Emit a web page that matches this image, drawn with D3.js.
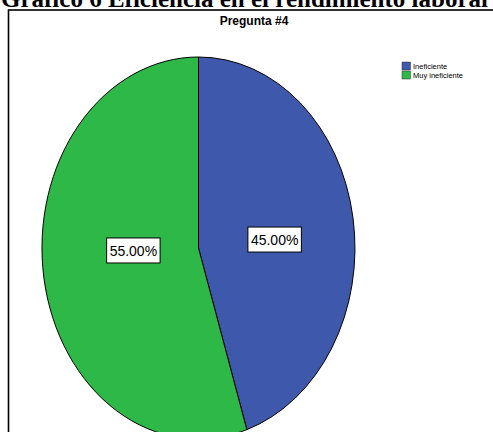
<!DOCTYPE html>
<html>
<head>
<meta charset="utf-8">
<script src="https://cdn.jsdelivr.net/npm/d3@7"></script>
<style>
  body { margin: 0; background: #fff; }
  svg { display: block; }
</style>
</head>
<body>
<script>
// Data
const pageTitle = 'Gráfico 6 Eficiencia en el rendimiento laboral'
const chartTitle = 'Pregunta #4'
const categories = ['Ineficiente', 'Muy ineficiente']
const percents = [45.0, 55.0]
const colors = ['#3e58ac', '#2eb848']

const W = 493, H = 432
const cx = 198.5, cy = 248
const rx = 156.5, ry = 191

const svg = d3.select('body').append('svg')
  .attr('width', W)
  .attr('height', H)

// Cut-off heading above the frame
svg.append('text')
  .attr('x', 1)
  .attr('y', 7)
  .style('font-family', '"Liberation Serif", "Times New Roman", serif')
  .style('font-weight', 'bold')
  .style('font-size', '25px')
  .text(pageTitle)

// Chart frame
svg.append('rect')
  .attr('x', 8.5)
  .attr('y', 10)
  .attr('width', 520)
  .attr('height', 460)
  .attr('fill', 'none')
  .attr('stroke', '#000')
  .attr('stroke-width', 1.6)

svg.append('text')
  .attr('x', 254)
  .attr('y', 25)
  .attr('text-anchor', 'middle')
  .style('font-family', '"Liberation Sans", Arial, sans-serif')
  .style('font-weight', 'bold')
  .style('font-size', '12px')
  .text(chartTitle)

// Pie drawn on a unit circle, then stretched into the ellipse
const pie = d3.pie().sort(null).value(d => d)
const arcs = pie(percents)
const arc = d3.arc().innerRadius(0).outerRadius(1)

const g = svg.append('g')
  .attr('transform', `translate(${cx}, ${cy}) scale(${rx}, ${ry})`)

g.selectAll('path')
  .data(arcs)
  .enter()
  .append('path')
  .attr('d', arc)
  .attr('fill', (d, i) => colors[i])
  .attr('stroke', '#000')
  .attr('stroke-width', 1)
  .attr('vector-effect', 'non-scaling-stroke')

// Percent labels in boxes (placed near the middle band, like SPSS does)
const labelArc = d3.arc().innerRadius(0.457).outerRadius(0.457)
const labels = svg.append('g')
  .attr('transform', `translate(${cx}, ${cy})`)

arcs.forEach((d, i) => {
  const [px, py] = labelArc.centroid(d)
  const lx = px * rx + 5.5, ly = py * ry * 0.4 - 3
  const lg = labels.append('g').attr('transform', `translate(${lx}, ${ly})`)
  const t = lg.append('text')
    .attr('text-anchor', 'middle')
    .attr('dy', '0.36em')
    .style('font-family', '"Liberation Sans", Arial, sans-serif')
    .style('font-size', '14px')
    .text(d3.format('.2f')(percents[i]) + '%')
  const bb = t.node().getBBox()
  lg.insert('rect', 'text')
    .attr('x', bb.x - 3)
    .attr('y', -12.5)
    .attr('width', bb.width + 6)
    .attr('height', 25)
    .attr('fill', '#fff')
    .attr('stroke', '#000')
    .attr('stroke-width', 1)
})

// Legend
const legend = svg.append('g').attr('transform', 'translate(402, 62)')
legend.selectAll('rect')
  .data(categories)
  .enter()
  .append('rect')
  .attr('x', 0)
  .attr('y', (_, i) => i * 9)
  .attr('width', 8.5)
  .attr('height', 8)
  .attr('fill', (_, i) => colors[i])
  .attr('stroke', '#333')
  .attr('stroke-width', 0.5)

legend.selectAll('text')
  .data(categories)
  .enter()
  .append('text')
  .attr('x', 11)
  .attr('y', (_, i) => i * 9 + 7)
  .style('font-family', '"Liberation Sans", Arial, sans-serif')
  .style('font-size', '7.5px')
  .text(d => d)
</script>
</body>
</html>
